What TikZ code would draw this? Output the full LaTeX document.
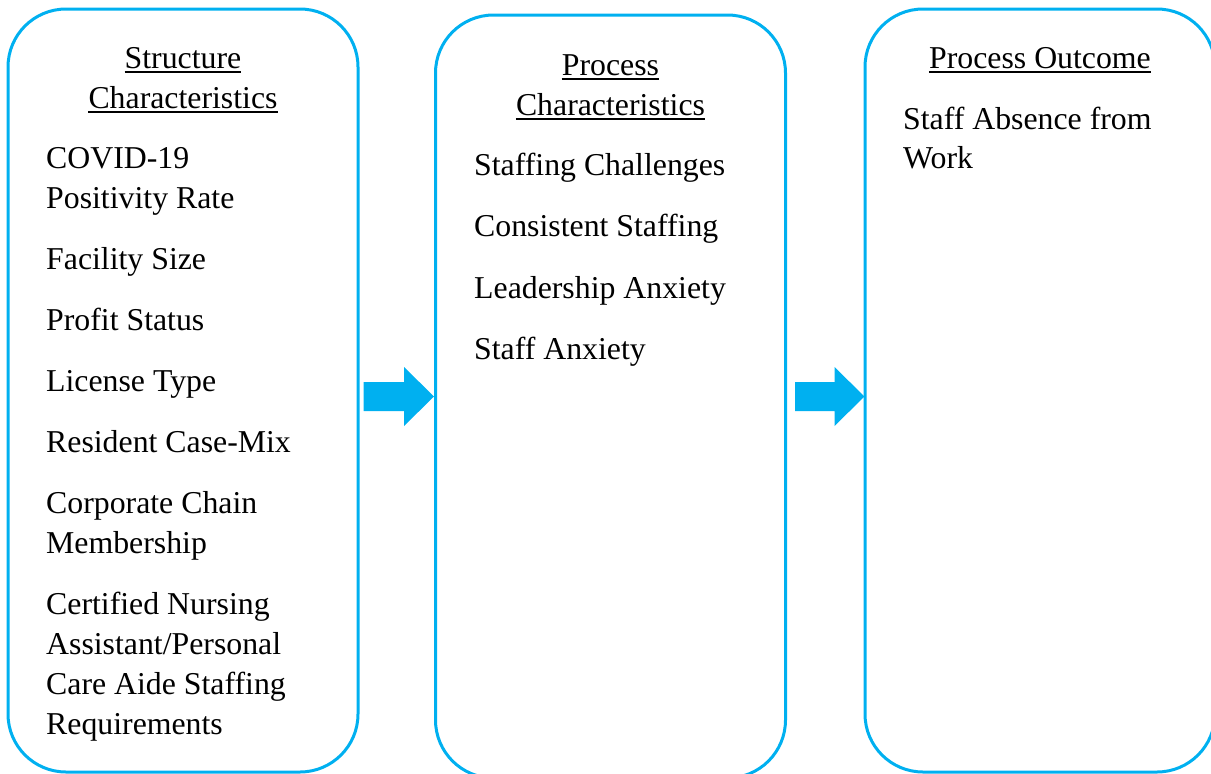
\documentclass[tikz,border=0pt]{standalone}
\usepackage{fontspec}
\setmainfont{Liberation Serif}
\usetikzlibrary{calc}
\definecolor{framecyan}{HTML}{00B0F0}

% block arrow from a tail point #1 to a tip point #2 (horizontal, pointing right)
\newcommand\blockarrow[2]{%
  \fill[arrowfill] (#2) -- ($(#2)+(-30,-29.5)$) -- ($(#2)+(-30,-14.5)$)
    -- ($(#1)+(0,-14.5)$) -- ($(#1)+(0,14.5)$) -- ($(#2)+(-30,14.5)$)
    -- ($(#2)+(-30,29.5)$) -- cycle;}

\begin{document}
\begin{tikzpicture}[x=1pt,y=-1pt,
  panel/.style={draw=framecyan, line width=3pt, rounded corners=58pt,
    minimum width=350pt, minimum height=763pt, inner sep=0pt},
  txt/.style={anchor=base west, inner sep=0pt, yshift=-1.5pt,
    font=\fontsize{31.8}{40}\selectfont},
  head/.style={anchor=base, inner sep=0pt, yshift=-1.5pt,
    font=\fontsize{31.8}{40}\selectfont},
  uline/.style={line width=2pt},
  arrowfill/.style={fill=framecyan}]
\useasboundingbox (0,0) rectangle (1211,774);
\clip (0,0) rectangle (1211,774);

% the three panels
\node[panel] (b1) at (183,390.5) {};
\node[panel] (b2) at (610.5,396.5) {};
\node[panel] (b3) at (1040,390.5) {};

% underlined headings
\node[head] (h1a) at (183,66.5) {Structure};
\node[head] (h1b) at (183,106.5) {Characteristics};
\node[head] (h2a) at (610.5,73.5) {Process};
\node[head] (h2b) at (610.5,113.5) {Characteristics};
\node[head] (h3a) at (1040,66.5) {Process Outcome};
\foreach \h in {h1a,h1b,h2a,h2b,h3a}
  \draw[uline] ([yshift=-3.5pt]\h.base west) -- ([yshift=-3.5pt]\h.base east);

% structure characteristics
\foreach \y/\t [count=\i] in {
  166.5/COVID-19, 206.5/Positivity Rate,
  267.5/Facility Size,
  328.5/Profit Status,
  389.5/License Type,
  450.5/Resident Case-Mix,
  511.5/Corporate Chain, 551.5/Membership,
  612.5/Certified Nursing, 652.5/Assistant{/}Personal,
  692.5/Care Aide Staffing, 732.5/Requirements}
  \node[txt] (s\i) at (46,\y) {\t};

% process characteristics
\foreach \y/\t [count=\i] in {
  173.5/Staffing Challenges,
  235/Consistent Staffing,
  296.5/Leadership Anxiety,
  357.5/Staff Anxiety}
  \node[txt] (p\i) at (474,\y) {\t};

% process outcome
\node[txt] (o1) at (903,127.5) {Staff Absence from};
\node[txt] (o2) at (903,167) {Work};

% arrows between the panels
\coordinate (t1) at (b2.west);
\coordinate (s1) at ($(b1.east |- b2.west)+(4,0)$);
\coordinate (t2) at ($(b3.west |- b2.east)+(1,0)$);
\coordinate (s2) at ($(b2.east)+(8,0)$);
\blockarrow{s1}{t1}
\blockarrow{s2}{t2}
\end{tikzpicture}
\end{document}
